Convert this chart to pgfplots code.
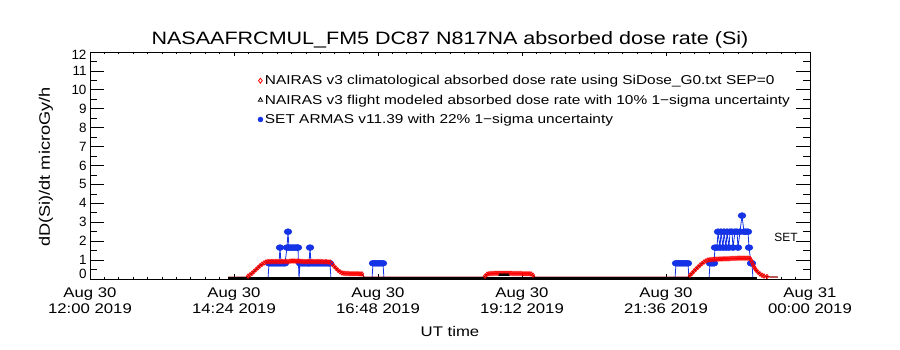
\documentclass[border=0pt]{standalone}
\usepackage{fontspec}
\setmainfont{Liberation Sans}
\newfontfamily\wide[FakeStretch=1.2]{Liberation Sans}
\usepackage{pgfplots}
\usepackage{pgfplotstable}
\pgfplotsset{compat=1.18}
\definecolor{setblue}{RGB}{20,50,230}
\definecolor{dkred}{RGB}{150,0,0}

\pgfplotstableread{
x y
138 0.10
156 0.10
158 0.15
160 0.22
162 0.30
164 0.40
166 0.50
168 0.60
170 0.70
172 0.78
174 0.85
176 0.90
178 0.92
180 0.92
182 0.93
184 0.92
186 0.93
188 0.92
190 0.92
192 0.93
194 0.92
196 0.93
198 0.92
200 0.94
202 0.95
204 0.95
206 0.94
208 0.95
210 0.94
212 0.93
214 0.92
216 0.92
218 0.93
220 0.92
222 0.93
224 0.92
226 0.92
228 0.93
230 0.92
232 0.92
234 0.91
236 0.92
238 0.90
240 0.90
242 0.80
244 0.68
246 0.57
248 0.46
250 0.38
252 0.32
254 0.30
256 0.29
258 0.29
260 0.28
262 0.28
264 0.28
266 0.28
268 0.28
270 0.27
272 0.27
274 0.10
393 0.10
395 0.15
397 0.25
399 0.28
401 0.29
403 0.29
405 0.30
407 0.30
409 0.30
411 0.30
413 0.30
415 0.30
417 0.30
419 0.30
421 0.30
423 0.29
425 0.29
427 0.29
429 0.29
431 0.29
433 0.28
435 0.28
437 0.28
439 0.28
441 0.27
443 0.20
445 0.10
598 0.10
600 0.20
602 0.30
604 0.42
606 0.53
608 0.63
610 0.73
612 0.82
614 0.90
616 0.96
618 1.00
620 1.02
622 1.03
624 1.04
626 1.05
628 1.05
630 1.06
632 1.06
634 1.07
636 1.07
638 1.07
640 1.08
642 1.09
644 1.09
646 1.09
648 1.10
650 1.10
652 1.10
654 1.10
656 1.10
658 1.10
660 1.09
661 1.00
662 0.88
663 0.76
664 0.65
665 0.55
666 0.47
668 0.36
670 0.27
672 0.20
674 0.16
677 0.13
680 0.11
688 0.10
}\redtab

\pgfplotstableread{
x y
178 0
179 0.83
181 0.83
183 0.83
185 0.83
187 0.83
189 0.83
190 1.66
191 0.83
193 0.83
195 0.83
197 1.66
198 2.50
199 1.66
201 1.66
203 1.66
205 1.66
207 1.66
208 1.66
209 0
210 0.83
212 0.83
214 0.83
216 0.83
218 0.83
219 0.83
220 1.66
221 0.83
223 0.83
225 0.83
227 0.83
229 0.83
231 0.83
233 0.83
235 0.83
237 0.83
239 0.83
240 0.83
241 0
282 0
283 0.83
285 0.83
287 0.83
289 0.83
291 0.83
293 0.83
294 0
585 0
586 0.83
588 0.83
590 0.83
592 0.83
594 0.83
596 0.83
598 0.83
599 0
619 0
620 0.83
622 0.83
624 0.83
625 1.66
627 1.66
628 2.50
630 1.66
631 2.50
633 1.66
634 2.50
636 1.66
637 2.50
639 1.66
640 2.50
642 2.50
643 1.66
645 2.50
647 2.50
648 1.66
650 2.50
652 3.35
654 2.50
656 2.50
658 2.50
659 1.66
661 0.83
662 0.83
663 0
}\bluetab

\begin{document}
\begin{tikzpicture}
\path[use as bounding box] (0,0) rectangle (900bp,350bp);
\begin{axis}[
  at={(90bp,71bp)}, anchor=south west, scale only axis,
  width=720bp, height=227bp,
  xmin=0, xmax=720, ymin=0, ymax=12,
  axis line style={line width=0.8bp},
  xtick={0,144,288,432,576,720},
  xticklabels={{Aug 30\\12:00 2019},{Aug 30\\14:24 2019},{Aug 30\\16:48 2019},{Aug 30\\19:12 2019},{Aug 30\\21:36 2019},{Aug 31\\00:00 2019}},
  minor x tick num=9,
  major tick length=4.5bp, minor tick length=2.3bp,
  tick style={black, line width=0.7bp},
  ytick={0.28,1,2,3,4,5,6,7,8,9,10,11,11.85},
  yticklabels={0,1,2,3,4,5,6,7,8,9,10,11,12},
  ytick style={draw=none},
  xticklabel style={align=center, font=\wide\fontsize{14}{16}\selectfont, yshift=-5bp},
  yticklabel style={font=\fontsize{13.5}{13.5}\selectfont, inner ysep=0pt},
  /pgf/number format/assume math mode=true,
  legend style={draw=none, fill=none, at={(0.233,0.907)}, anchor=north west,
    font=\wide\fontsize{12.9}{12.9}\selectfont, row sep=4.6bp, inner sep=0pt},
  legend cell align=left,
  legend image code/.code={\draw[#1] plot coordinates {(2bp,0bp)};},
]
\addlegendimage{only marks, mark=diamond, mark size=2.5bp, red, line width=0.8bp}
\addlegendentry{NAIRAS v3 climatological absorbed dose rate using SiDose\_G0.txt SEP=0}
\addlegendimage{only marks, mark=triangle, mark size=2.5bp, black, line width=0.8bp}
\addlegendentry{NAIRAS v3 flight modeled absorbed dose rate with 10\% 1−sigma uncertainty}
\addlegendimage{only marks, mark=*, mark size=2.5bp, setblue}
\addlegendentry{SET ARMAS v11.39 with 22\% 1−sigma uncertainty}

\addplot[forget plot, setblue, line width=0.8bp] table[x=x,y=y] {\bluetab};
\addplot[forget plot, setblue, only marks, mark=*, mark size=3bp, mark options={xscale=1.3}, restrict y to domain=0.5:20] table[x=x,y=y] {\bluetab};
\addplot[forget plot, dkred, line width=1.2bp] table[x=x,y=y] {\redtab};
\addplot[forget plot, red, only marks, mark=diamond, mark size=2.2bp, mark options={line width=0.8bp}, restrict y to domain=0.12:5] table[x=x,y=y] {\redtab};
\addplot[forget plot, black, line width=3bp] coordinates {(138,0) (667,0)};
\addplot[forget plot, black, only marks, mark=triangle*, mark size=1.5bp] coordinates {(410,0.22) (412,0.22) (414,0.22) (416,0.22) (418,0.22)};
\node[font=\fontsize{12}{12}\selectfont] at (axis cs:696,2.22) {SET};
\end{axis}
\begin{axis}[
  at={(90bp,71bp)}, anchor=south west, scale only axis,
  width=720bp, height=227bp,
  xmin=0, xmax=720, ymin=0, ymax=12,
  axis line style={line width=0.8bp},
  xtick=\empty,
  ytick={0,...,12}, yticklabels={},
  minor y tick num=1,
  major tick length=14.4bp, minor tick length=7.2bp,
  tick style={black, line width=0.7bp},
]
\end{axis}
\node[font=\wide\fontsize{18}{18}\selectfont] at (450bp,310bp) {NASAAFRCMUL\_FM5 DC87 N817NA absorbed dose rate (Si)};
\node[rotate=90, font=\wide\fontsize{15.2}{15.2}\selectfont] at (46bp,183bp) {dD(Si)/dt microGy/h};
\node[font=\wide\fontsize{14}{14}\selectfont] at (450bp,18bp) {UT time};
\end{tikzpicture}
\end{document}
